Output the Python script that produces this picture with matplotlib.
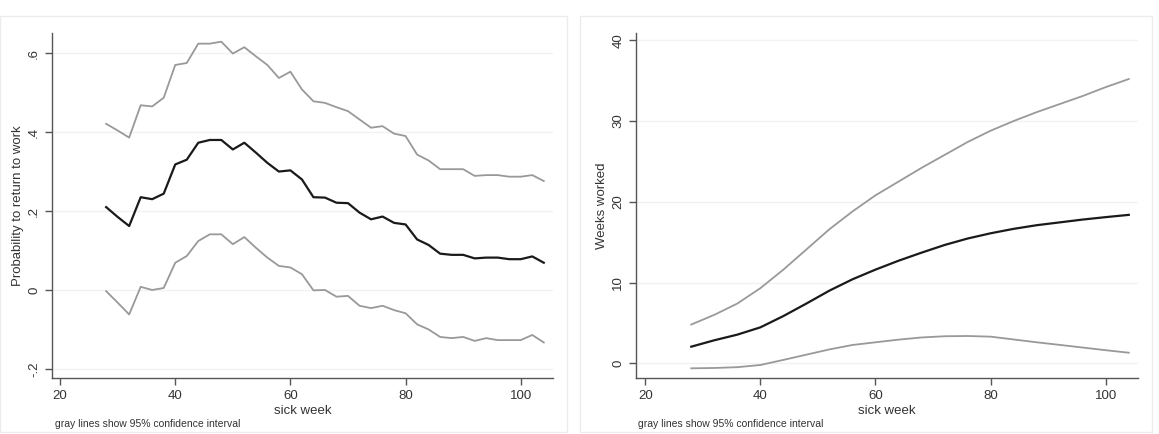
import matplotlib
matplotlib.use('Agg')
import matplotlib.pyplot as plt
from matplotlib.patches import Rectangle

plt.rcParams['font.family'] = ['Liberation Sans', 'DejaVu Sans']

# --- Data ---
# left: probability to return to work by sick week
weeks_l = [28, 30, 32, 34, 36, 38, 40, 42, 44, 46, 48, 50, 52, 54, 56, 58, 60,
           62, 64, 66, 68, 70, 72, 74, 76, 78, 80, 82, 84, 86, 88, 90, 92, 94,
           96, 98, 100, 102, 104]
prob_mid = [0.21, 0.185, 0.162, 0.235, 0.23, 0.244, 0.318, 0.33, 0.373, 0.38,
            0.38, 0.356, 0.373, 0.348, 0.322, 0.30, 0.303, 0.28, 0.235, 0.234,
            0.221, 0.22, 0.196, 0.179, 0.186, 0.170, 0.166, 0.128, 0.114,
            0.092, 0.089, 0.089, 0.08, 0.082, 0.082, 0.078, 0.078, 0.085, 0.069]
prob_hi = [0.421, 0.404, 0.386, 0.468, 0.465, 0.487, 0.57, 0.575, 0.624, 0.624,
           0.629, 0.599, 0.615, 0.592, 0.57, 0.537, 0.553, 0.508, 0.478, 0.474,
           0.463, 0.453, 0.432, 0.411, 0.415, 0.396, 0.39, 0.343, 0.328, 0.306,
           0.306, 0.306, 0.289, 0.291, 0.291, 0.287, 0.287, 0.291, 0.276]
prob_lo = [-0.003, -0.032, -0.062, 0.008, 0.0, 0.005, 0.069, 0.086, 0.124,
           0.141, 0.141, 0.116, 0.134, 0.107, 0.082, 0.061, 0.057, 0.04,
           -0.001, 0.0, -0.017, -0.015, -0.04, -0.046, -0.04, -0.051, -0.059,
           -0.087, -0.1, -0.119, -0.122, -0.119, -0.129, -0.122, -0.127,
           -0.127, -0.127, -0.114, -0.133]

# right: weeks worked by sick week
weeks_r = [28, 32, 36, 40, 44, 48, 52, 56, 60, 64, 68, 72, 76, 80, 84, 88, 92,
           96, 100, 104]
worked_mid = [2.06, 2.85, 3.55, 4.45, 5.85, 7.4, 9.0, 10.4, 11.6, 12.7, 13.7,
              14.65, 15.45, 16.1, 16.65, 17.1, 17.45, 17.8, 18.1, 18.38]
worked_hi = [4.8, 6.0, 7.4, 9.3, 11.6, 14.1, 16.6, 18.8, 20.8, 22.5, 24.2,
             25.8, 27.4, 28.8, 30.0, 31.1, 32.1, 33.1, 34.2, 35.2]
worked_lo = [-0.62, -0.58, -0.48, -0.21, 0.42, 1.07, 1.72, 2.27, 2.6, 2.93,
             3.2, 3.35, 3.38, 3.3, 2.95, 2.6, 2.28, 1.95, 1.62, 1.31]

x_ticks = [20, 40, 60, 80, 100]
yticks_l = [-0.2, 0.0, 0.2, 0.4, 0.6]
ylabels_l = ['-.2', '0', '.2', '.4', '.6']
yticks_r = [0, 10, 20, 30, 40]

W, H = 1159, 434
fig = plt.figure(figsize=(W / 100, H / 100), dpi=100)
fig.patch.set_facecolor('white')

# panel frames (pixel coords)
for x0, x1 in [(0, 567), (580, 1152)]:
    fig.add_artist(Rectangle((x0 / W, 1 - 432 / H), (x1 - x0) / W, (432 - 16) / H,
                             transform=fig.transFigure, facecolor='none',
                             edgecolor='#ececec', linewidth=1, zorder=-1))


def make_ax(left, right, top, bottom):
    return fig.add_axes([left / W, 1 - bottom / H, (right - left) / W, (bottom - top) / H])


def style(ax, yticks, ylabels, ylabel):
    ax.set_facecolor('none')
    for s in ['top', 'right']:
        ax.spines[s].set_visible(False)
    for s in ['left', 'bottom']:
        ax.spines[s].set_color('#555555')
        ax.spines[s].set_linewidth(1.0)
    ax.set_xticks(x_ticks)
    ax.set_yticks(yticks)
    ax.set_yticklabels(ylabels, rotation=90, va='center')
    ax.tick_params(colors='#555555', labelcolor='#333333', labelsize=9.5, length=5, width=1)
    ax.grid(axis='y', color='#f2f2f2', linewidth=1)
    ax.set_axisbelow(True)
    ax.set_xlabel('sick week', fontsize=9.5, color='#333333', labelpad=2)
    ax.set_ylabel(ylabel, fontsize=9.5, color='#333333', labelpad=3)


# left panel
ax1 = make_ax(52, 553, 33, 378)
ax1.plot(weeks_l, prob_hi, color='#999999', lw=1.3)
ax1.plot(weeks_l, prob_lo, color='#999999', lw=1.3)
ax1.plot(weeks_l, prob_mid, color='#1a1a1a', lw=1.6)
ax1.set_xlim(18.6, 105.6)
ax1.set_ylim(-0.223, 0.651)
style(ax1, yticks_l, ylabels_l, 'Probability to return to work')

# right panel
ax2 = make_ax(636, 1138, 33, 378)
ax2.plot(weeks_r, worked_hi, color='#999999', lw=1.3)
ax2.plot(weeks_r, worked_lo, color='#999999', lw=1.3)
ax2.plot(weeks_r, worked_mid, color='#1a1a1a', lw=1.6)
ax2.set_xlim(18.4, 105.6)
ax2.set_ylim(-1.82, 40.9)
style(ax2, yticks_r, [str(v) for v in yticks_r], 'Weeks worked')

# notes
for xp in (55, 638):
    fig.text(xp / W, 1 - 424 / H, 'gray lines show 95% confidence interval',
             fontsize=7.5, color='#333333', va='center')

fig.savefig('out.png', dpi=100, facecolor='white')
